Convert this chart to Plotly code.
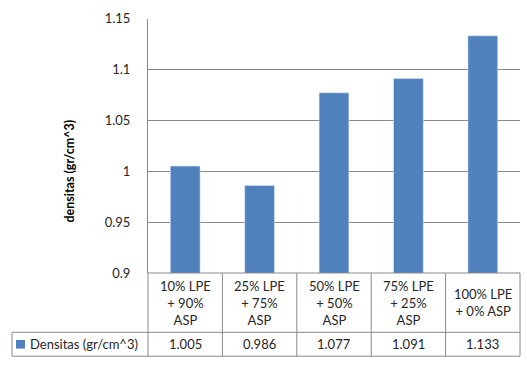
import plotly.graph_objects as go

categories = ["10% LPE<br>+ 90%<br>ASP", "25% LPE<br>+ 75%<br>ASP", "50% LPE<br>+ 50%<br>ASP",
              "75% LPE<br>+ 25%<br>ASP", "100% LPE<br>+ 0% ASP"]
values = [1.005, 0.986, 1.077, 1.091, 1.133]
series_name = "Densitas (gr/cm^3)"
y_title = "densitas (gr/cm^3)"
y_ticks = [0.9, 0.95, 1.0, 1.05, 1.1, 1.15]

W, H = 527, 369
FONT = "Lato, Calibri, Liberation Sans, sans-serif"
TXT = "#262626"
GRID = "#8a8a8a"
BORDER = "#8a8a8a"
BLUE = "#4f81bd"
FS = 13

# pixel layout
L, R, T, B = 148, 520, 11, 277
ROW1 = 339
ROW2 = 364
TABLE_LEFT = 12

def px(x):
    return x / W

def py(y):
    return 1 - y / H

n = len(categories)
fig = go.Figure()
fig.add_trace(go.Bar(x=list(range(n)), y=values, marker_color=BLUE, width=0.4,
                     name=series_name, showlegend=False))

fig.update_layout(
    width=W, height=H, margin=dict(l=0, r=0, t=0, b=0),
    paper_bgcolor="white", plot_bgcolor="white",
    font=dict(family=FONT, size=FS, color=TXT),
    xaxis=dict(domain=[px(L), px(R)], range=[-0.5, n - 0.5], showticklabels=False,
               showgrid=False, zeroline=False, showline=False, fixedrange=True),
    yaxis=dict(domain=[py(B), py(T)], range=[0.9, 1.15], tickvals=y_ticks,
               ticktext=[f"{v:g}" for v in y_ticks],
               showgrid=True, gridcolor=GRID, gridwidth=1, zeroline=False,
               showline=True, linecolor=BORDER, linewidth=1,
               ticks="", ticklabelstandoff=14, tickfont=dict(size=FS, color=TXT)),
    bargap=0.6,
)

shapes = []
def line(x0, y0, x1, y1):
    shapes.append(dict(type="line", xref="paper", yref="paper",
                       x0=px(x0), y0=py(y0), x1=px(x1), y1=py(y1),
                       line=dict(color=BORDER, width=1)))

# horizontal table lines
line(L, B, R, B)
line(TABLE_LEFT, ROW1, R, ROW1)
line(TABLE_LEFT, ROW2, R, ROW2)
# vertical table lines
line(TABLE_LEFT, ROW1, TABLE_LEFT, ROW2)
colw = (R - L) / n
for i in range(n + 1):
    xx = L + i * colw
    line(xx, B, xx, ROW2)
# legend key
shapes.append(dict(type="rect", xref="paper", yref="paper",
                   x0=px(16), x1=px(25), y0=py(356), y1=py(347),
                   fillcolor=BLUE, line=dict(width=0)))
fig.update_layout(shapes=shapes)

ann = []
for i, c in enumerate(categories):
    ann.append(dict(x=i, xref="x", y=py((B + ROW1) / 2), yref="paper", text=c,
                    showarrow=False, font=dict(size=FS, color=TXT), align="center",
                    xanchor="center", yanchor="middle"))
    ann.append(dict(x=i, xref="x", y=py((ROW1 + ROW2) / 2), yref="paper",
                    text=f"{values[i]:.3f}", showarrow=False,
                    font=dict(size=FS, color=TXT), xanchor="center", yanchor="middle"))
ann.append(dict(x=px(28), xref="paper", y=py((ROW1 + ROW2) / 2), yref="paper",
                text=series_name, showarrow=False, font=dict(size=FS, color=TXT),
                xanchor="left", yanchor="middle"))
ann.append(dict(x=px(70), xref="paper", y=py(171), yref="paper",
                text=f"<b>{y_title}</b>", textangle=-90, showarrow=False,
                font=dict(size=12.5, color="#000000"), xanchor="center", yanchor="middle"))
fig.update_layout(annotations=ann)

fig.write_html("out.html")
